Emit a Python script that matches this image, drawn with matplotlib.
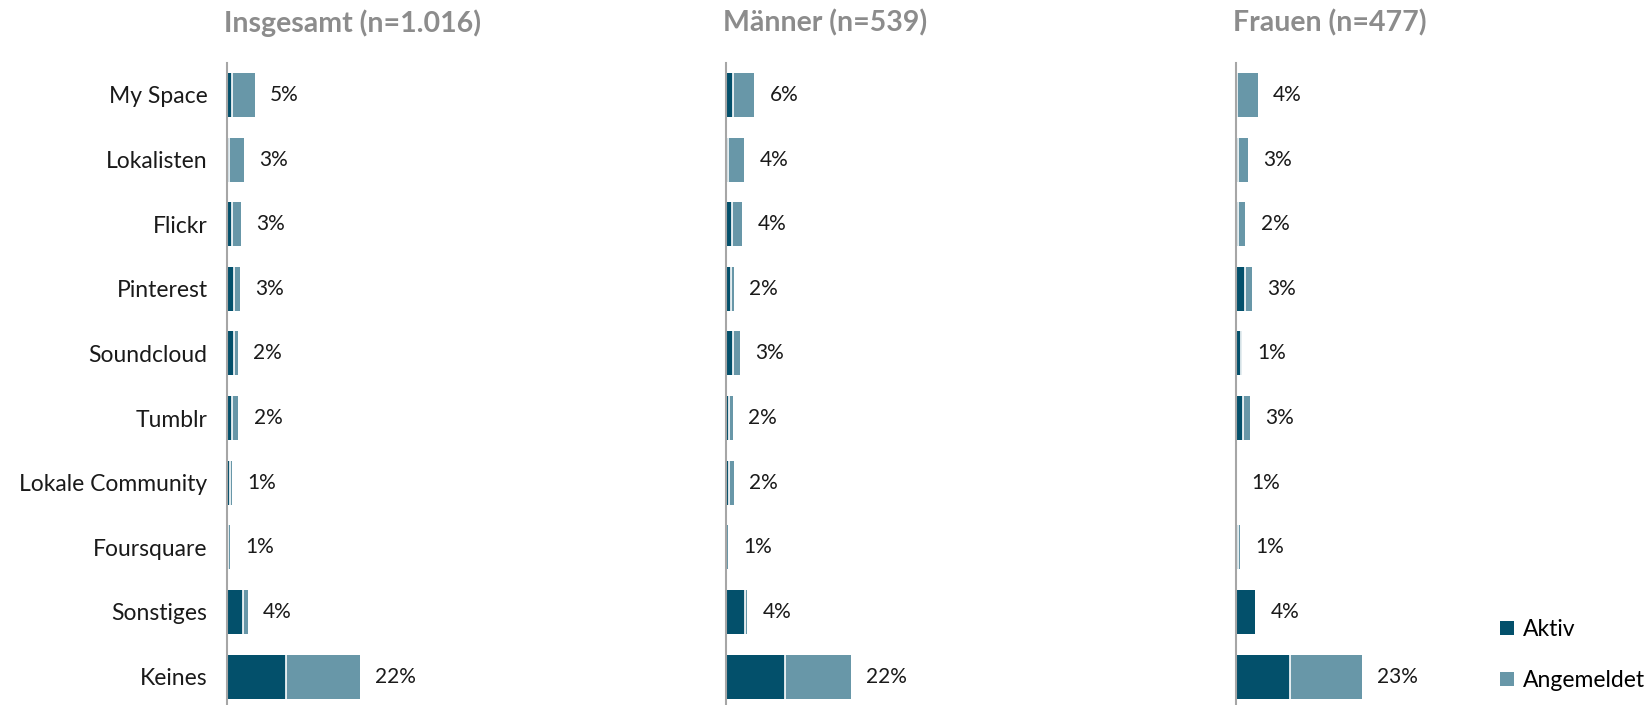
import matplotlib.pyplot as plt
import numpy as np

plt.rcParams['font.family'] = ['Lato', 'DejaVu Sans']

kategorien = ["My Space", "Lokalisten", "Flickr", "Pinterest", "Soundcloud", "Tumblr",
              "Lokale Community", "Foursquare", "Sonstiges", "Keines"]

titel = ["Insgesamt (n=1.016)", "Männer (n=539)", "Frauen (n=477)"]

# Anteile in Prozent, aus dem Bild geschätzt
aktiv = [
    [0.8, 0.35, 0.8, 1.2, 1.1, 0.9, 0.5, 0.15, 2.7, 9.9],
    [1.25, 0.35, 1.05, 0.8, 1.2, 0.55, 0.55, 0.05, 3.2, 9.8],
    [0.2, 0.3, 0.35, 1.5, 0.8, 1.2, 0.05, 0.3, 3.2, 9.0],
]
angemeldet = [
    [3.8, 2.4, 1.5, 1.0, 0.7, 1.0, 0.4, 0.3, 0.8, 12.2],
    [3.5, 2.7, 1.7, 0.5, 1.1, 0.65, 0.8, 0.3, 0.35, 11.0],
    [3.4, 1.7, 1.2, 1.1, 0.2, 1.1, 0.0, 0.3, 0.0, 12.0],
]
gesamt = [
    ["5%", "3%", "3%", "3%", "2%", "2%", "1%", "1%", "4%", "22%"],
    ["6%", "4%", "4%", "2%", "3%", "2%", "2%", "1%", "4%", "22%"],
    ["4%", "3%", "2%", "3%", "1%", "3%", "1%", "1%", "4%", "23%"],
]

dunkel = "#03506b"
hell = "#6897a8"

fig = plt.figure(figsize=(16.49, 7.05), dpi=100)
links = [227 / 1649, 726 / 1649, 1236 / 1649]
breite = 300 / 1649
y = np.arange(len(kategorien))
hoehe = 0.68

for k in range(3):
    ax = fig.add_axes([links[k], 0, breite, 642 / 705])
    a = np.array(aktiv[k])
    b = np.array(angemeldet[k])
    ax.barh(y, a, height=hoehe, color=dunkel, label="Aktiv")
    ax.barh(y, b, left=a, height=hoehe, color=hell, label="Angemeldet")
    # weisse Trennlinie zwischen den Segmenten
    beide = (a > 0.1) & (b > 0)
    ax.vlines(a[beide], y[beide] - hoehe / 2, y[beide] + hoehe / 2, color="white", linewidth=1.2)
    for i in range(len(kategorien)):
        ax.annotate(gesamt[k][i], (a[i] + b[i], y[i]), xytext=(11, 0), textcoords="offset points",
                    va="center", ha="left", fontsize=15, color="#1a1a1a")
    ax.set_xlim(0, 50)
    ax.set_ylim(9.44, -0.495)
    for s in ["top", "right", "bottom"]:
        ax.spines[s].set_visible(False)
    ax.spines["left"].set_color("#a6a6a6")
    ax.spines["left"].set_linewidth(1.5)
    ax.set_xticks([])
    ax.set_yticks(y)
    if k == 0:
        ax.set_yticklabels(kategorien, fontsize=16.5, color="#1a1a1a")
    else:
        ax.set_yticklabels([])
    ax.tick_params(axis="y", length=0, pad=14)
    fig.text(links[k] - 0.002, 1 - 23 / 705, titel[k], fontsize=20.5, fontweight="bold",
             color="#8c8c8c", ha="left", va="center")

handles, labels = ax.get_legend_handles_labels()
fig.legend(handles, labels, loc="lower left", bbox_to_anchor=(1500 / 1649, 0.02), frameon=False,
           fontsize=16.5, handlelength=0.6, handleheight=0.6, handletextpad=0.4, labelspacing=1.3,
           borderpad=0, borderaxespad=0)

fig.savefig("out.png", dpi=100)
